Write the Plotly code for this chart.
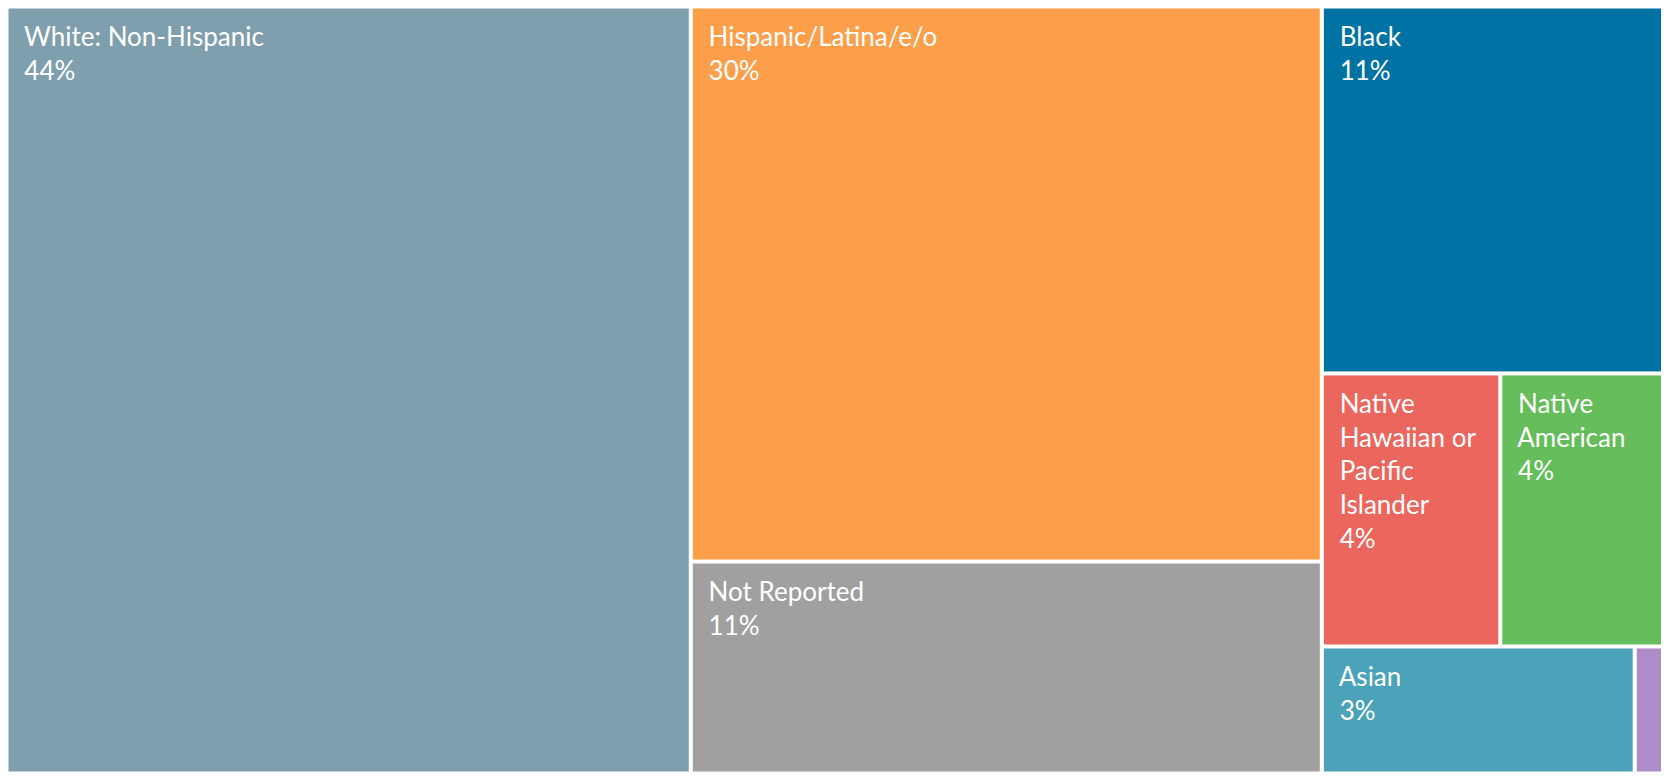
import plotly.graph_objects as go

# share of respondents (%), read from tile areas; labels show rounded values
groups = ["White: Non-Hispanic", "Hispanic/Latina/e/o", "Not Reported", "Black",
          "Native Hawaiian or Pacific Islander", "Native American", "Asian", "Other"]
shares = [44.37, 29.61, 11.31, 10.63, 4.12, 3.79, 3.36, 0.32]
# wrapped names as they appear in the tiles
display_names = ["White: Non-Hispanic", "Hispanic/Latina/e/o", "Not Reported", "Black",
                 "Native<br>Hawaiian or<br>Pacific<br>Islander", "Native<br>American", "Asian", ""]
colors = ["#7F9FAF", "#FD9E4A", "#A0A0A0", "#0072A3",
          "#EB665D", "#66BD5B", "#4AA3B9", "#AE8CC8"]

indent = "&nbsp;&nbsp;"
top_pad = "<span style='font-size:1px'>&nbsp;</span><br>"

texts = []
for name, val in zip(display_names, shares):
    if not name:
        texts.append("")
        continue
    lines = name.split("<br>") + [f"{val:.0f}%"]
    texts.append(top_pad + "<br>".join(indent + ln for ln in lines))

fig = go.Figure(go.Treemap(
    labels=groups,
    parents=[""] * len(groups),
    values=shares,
    text=texts,
    texttemplate="%{text}",
    textposition="top left",
    textfont={'family': "Lato", 'size': 26, 'color': "white"},
    marker={'colors': colors, 'line': {'width': 1, 'color': "white"},
            'pad': {'t': 0, 'l': 0, 'r': 0, 'b': 0}},
    tiling={'packing': 'squarify', 'squarifyratio': 1.618},
    sort=False,
    pathbar={'visible': False},
    hoverinfo="label+value"))

# page body adds an 8px offset, so the figure is a bit smaller than the window
fig.update_layout(
    width=1661, height=771,
    margin={'l': 0, 'r': 6, 't': 0, 'b': 7},
    paper_bgcolor="white",
    uniformtext={'minsize': 26, 'mode': 'show'})

fig.write_html("out.html")
